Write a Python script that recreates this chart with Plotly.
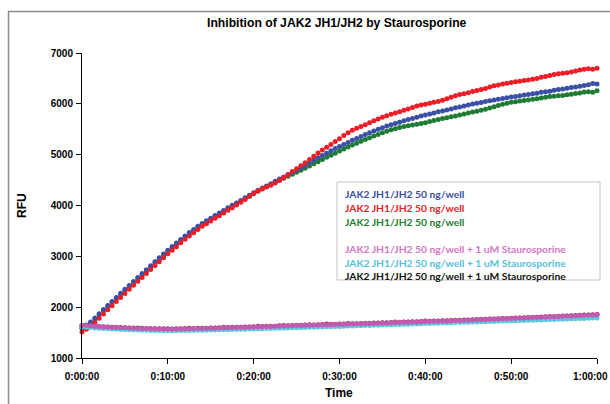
import plotly.graph_objects as go

# Time in minutes (30-second reads)
TIME_MIN = [0, 0.5, 1, 1.5, 2, 2.5, 3, 3.5, 4, 4.5, 5, 5.5, 6, 6.5, 7, 7.5, 8, 8.5, 9, 9.5,
            10, 10.5, 11, 11.5, 12, 12.5, 13, 13.5, 14, 14.5, 15, 15.5, 16, 16.5, 17, 17.5, 18, 18.5, 19, 19.5,
            20, 20.5, 21, 21.5, 22, 22.5, 23, 23.5, 24, 24.5, 25, 25.5, 26, 26.5, 27, 27.5, 28, 28.5, 29, 29.5,
            30, 30.5, 31, 31.5, 32, 32.5, 33, 33.5, 34, 34.5, 35, 35.5, 36, 36.5, 37, 37.5, 38, 38.5, 39, 39.5,
            40, 40.5, 41, 41.5, 42, 42.5, 43, 43.5, 44, 44.5, 45, 45.5, 46, 46.5, 47, 47.5, 48, 48.5, 49, 49.5,
            50, 50.5, 51, 51.5, 52, 52.5, 53, 53.5, 54, 54.5, 55, 55.5, 56, 56.5, 57, 57.5, 58, 58.5, 59, 59.5, 60]

BLUE = [1600, 1648, 1710, 1785, 1870, 1955, 2035, 2110, 2190, 2272, 2350, 2425, 2505, 2585, 2660, 2735, 2815, 2895, 2970, 3045,
        3120, 3192, 3260, 3332, 3400, 3468, 3530, 3590, 3645, 3700, 3750, 3802, 3850, 3903, 3955, 4003, 4050, 4098, 4150, 4200,
        4250, 4300, 4345, 4385, 4430, 4475, 4520, 4562, 4610, 4655, 4700, 4745, 4795, 4842, 4890, 4938, 4985, 5030, 5075, 5120,
        5160, 5200, 5240, 5282, 5320, 5358, 5395, 5432, 5465, 5498, 5530, 5562, 5590, 5615, 5640, 5668, 5690, 5712, 5735, 5760,
        5780, 5798, 5820, 5842, 5860, 5878, 5900, 5922, 5940, 5955, 5975, 5995, 6010, 6028, 6045, 6062, 6075, 6088, 6105, 6122,
        6135, 6145, 6160, 6175, 6185, 6198, 6210, 6228, 6240, 6250, 6265, 6280, 6290, 6305, 6320, 6330, 6345, 6362, 6375, 6398, 6388]

RED = [1510, 1565, 1620, 1695, 1780, 1868, 1950, 2030, 2110, 2190, 2270, 2350, 2430, 2508, 2585, 2662, 2740, 2818, 2895, 2972,
       3050, 3120, 3190, 3265, 3335, 3400, 3465, 3530, 3590, 3642, 3695, 3748, 3800, 3852, 3905, 3958, 4010, 4065, 4120, 4180,
       4240, 4285, 4330, 4362, 4400, 4445, 4490, 4550, 4605, 4668, 4725, 4780, 4840, 4905, 4970, 5032, 5090, 5148, 5200, 5258,
       5315, 5375, 5430, 5478, 5520, 5555, 5590, 5628, 5665, 5700, 5735, 5768, 5795, 5822, 5845, 5872, 5900, 5930, 5955, 5975,
       5990, 6012, 6030, 6048, 6070, 6102, 6130, 6160, 6185, 6200, 6220, 6242, 6260, 6280, 6300, 6330, 6355, 6372, 6390, 6405,
       6420, 6432, 6445, 6458, 6470, 6482, 6500, 6522, 6540, 6558, 6575, 6590, 6600, 6612, 6625, 6648, 6665, 6680, 6690, 6682, 6700]

GREEN = [1580, 1630, 1690, 1768, 1850, 1932, 2010, 2090, 2170, 2248, 2325, 2402, 2480, 2558, 2635, 2712, 2790, 2868, 2945, 3020,
         3095, 3165, 3235, 3305, 3375, 3440, 3505, 3565, 3620, 3672, 3725, 3778, 3830, 3880, 3930, 3980, 4030, 4080, 4130, 4180,
         4230, 4280, 4325, 4368, 4410, 4452, 4495, 4535, 4575, 4615, 4655, 4695, 4735, 4778, 4820, 4862, 4905, 4948, 4990, 5030,
         5070, 5110, 5150, 5188, 5225, 5262, 5300, 5332, 5365, 5398, 5430, 5462, 5490, 5512, 5535, 5552, 5570, 5585, 5600, 5615,
         5630, 5652, 5670, 5690, 5710, 5728, 5745, 5762, 5780, 5800, 5820, 5838, 5855, 5875, 5895, 5920, 5945, 5968, 5990, 6010,
         6030, 6042, 6055, 6065, 6075, 6088, 6100, 6115, 6130, 6142, 6150, 6158, 6165, 6178, 6190, 6202, 6215, 6232, 6240, 6228, 6255]

MAGENTA = [1640, 1638, 1632, 1625, 1618, 1612, 1608, 1602, 1600, 1596, 1593, 1590, 1585, 1580, 1582, 1578, 1575, 1574, 1572, 1570,
           1570, 1568, 1572, 1570, 1575, 1574, 1578, 1580, 1582, 1584, 1588, 1586, 1592, 1595, 1596, 1600, 1602, 1604, 1606, 1608,
           1612, 1614, 1615, 1620, 1622, 1624, 1628, 1630, 1632, 1636, 1638, 1640, 1643, 1645, 1648, 1650, 1652, 1656, 1658, 1660,
           1663, 1666, 1668, 1670, 1672, 1675, 1678, 1680, 1682, 1686, 1688, 1690, 1694, 1696, 1698, 1702, 1705, 1707, 1710, 1713,
           1716, 1718, 1722, 1724, 1727, 1730, 1733, 1736, 1740, 1742, 1745, 1749, 1752, 1755, 1758, 1762, 1765, 1768, 1772, 1775,
           1778, 1782, 1785, 1788, 1792, 1796, 1799, 1802, 1806, 1810, 1813, 1817, 1820, 1824, 1828, 1832, 1836, 1840, 1844, 1848, 1852]

CYAN = [1615, 1605, 1598, 1590, 1585, 1580, 1575, 1570, 1568, 1563, 1560, 1556, 1552, 1550, 1548, 1545, 1543, 1541, 1540, 1538,
        1538, 1537, 1538, 1540, 1540, 1542, 1543, 1545, 1546, 1548, 1550, 1552, 1554, 1556, 1558, 1560, 1562, 1565, 1567, 1570,
        1572, 1575, 1577, 1580, 1582, 1585, 1587, 1590, 1592, 1595, 1597, 1600, 1602, 1605, 1607, 1610, 1612, 1615, 1617, 1620,
        1622, 1625, 1628, 1630, 1633, 1636, 1638, 1641, 1644, 1646, 1649, 1652, 1655, 1657, 1660, 1663, 1666, 1668, 1671, 1674,
        1677, 1680, 1682, 1685, 1688, 1690, 1693, 1696, 1699, 1701, 1704, 1707, 1710, 1712, 1715, 1718, 1720, 1723, 1726, 1728,
        1731, 1734, 1736, 1739, 1742, 1745, 1747, 1750, 1753, 1756, 1758, 1761, 1764, 1767, 1770, 1773, 1776, 1779, 1782, 1785, 1788]

DARK = [1645, 1640, 1636, 1628, 1622, 1615, 1610, 1606, 1603, 1598, 1596, 1592, 1588, 1590, 1586, 1580, 1578, 1576, 1575, 1574,
        1573, 1572, 1575, 1574, 1578, 1586, 1580, 1583, 1585, 1587, 1590, 1590, 1595, 1604, 1600, 1603, 1605, 1607, 1610, 1611,
        1615, 1625, 1618, 1623, 1625, 1627, 1632, 1640, 1635, 1640, 1642, 1644, 1647, 1655, 1651, 1654, 1657, 1668, 1662, 1664,
        1667, 1670, 1680, 1674, 1676, 1680, 1682, 1684, 1690, 1690, 1692, 1695, 1698, 1706, 1702, 1706, 1709, 1711, 1714, 1717,
        1726, 1722, 1726, 1728, 1731, 1734, 1737, 1744, 1744, 1746, 1749, 1753, 1756, 1760, 1762, 1766, 1769, 1772, 1776, 1779,
        1782, 1786, 1789, 1792, 1796, 1800, 1803, 1806, 1810, 1814, 1817, 1821, 1824, 1828, 1832, 1836, 1840, 1844, 1848, 1852, 1856]

X_TICKS = [0, 10, 20, 30, 40, 50, 60]
X_TICK_TEXT = ["0:00:00", "0:10:00", "0:20:00", "0:30:00", "0:40:00", "0:50:00", "1:00:00"]
Y_TICKS = [1000, 2000, 3000, 4000, 5000, 6000, 7000]

LEGEND_LINES = [
    ("JAK2 JH1/JH2 50 ng/well", "#3B4DA3"),
    ("JAK2 JH1/JH2 50 ng/well", "#EE2229"),
    ("JAK2 JH1/JH2 50 ng/well", "#1F7D32"),
    ("JAK2 JH1/JH2 50 ng/well + 1 uM Staurosporine", "#D577C4"),
    ("JAK2 JH1/JH2 50 ng/well + 1 uM Staurosporine", "#55C3DA"),
    ("JAK2 JH1/JH2 50 ng/well + 1 uM Staurosporine", "#111111"),
]

series = [
    (GREEN, "#1E7B33"),
    (BLUE, "#3A50A6"),
    (RED, "#EE1C25"),
    (DARK, "#9B2C3C"),
    (CYAN, "#5CC8DD"),
    (MAGENTA, "#C25AB2"),
]

fig = go.Figure()
for vals, col in series:
    fig.add_trace(go.Scatter(x=TIME_MIN, y=vals, mode="markers",
                             marker=dict(size=5, color=col, line=dict(width=0)),
                             hoverinfo="skip", showlegend=False, cliponaxis=False))

# plot area in window pixels: x 82..597, y 53..358
FW, FH = 610, 404
L, R, T, B = 82, 597, 53, 358
W, H = R - L, B - T
def px(x):
    return (x - L) / W
def py(y):
    return (B - y) / H

shapes = [
    # outer chart frame
    dict(type="rect", xref="paper", yref="paper", x0=px(8.5), x1=px(650), y0=py(450), y1=py(11.5),
         line=dict(color="#8C8C8C", width=1.5), fillcolor="rgba(0,0,0,0)", layer="below"),
    # text box
    dict(type="rect", xref="paper", yref="paper", x0=px(337), x1=px(600), y0=py(280), y1=py(182),
         line=dict(color="#C4C4C4", width=1), fillcolor="white", layer="above"),
]

annotations = []
line_y = [194, 208, 222, 249, 262.5, 276]
for (txt, col), yy in zip(LEGEND_LINES, line_y):
    annotations.append(dict(text="<b>%s</b>" % txt, xref="paper", yref="paper", x=px(343), y=py(yy),
                            xanchor="left", yanchor="middle", showarrow=False,
                            font=dict(family="Lato", size=10.3, color=col)))
annotations.append(dict(text="<b>RFU</b>", xref="paper", yref="paper", x=px(22), y=py(206),
                        textangle=-90, showarrow=False, xanchor="center", yanchor="middle",
                        font=dict(family="Liberation Sans", size=12, color="black")))
annotations.append(dict(text="<b>Time</b>", xref="paper", yref="paper", x=px(339), y=py(393),
                        showarrow=False, xanchor="center", yanchor="middle",
                        font=dict(family="Liberation Sans", size=12, color="black")))
annotations.append(dict(text="<b>Inhibition of JAK2 JH1/JH2 by Staurosporine</b>", xref="paper", yref="paper",
                        x=px(337), y=py(23), showarrow=False, xanchor="center", yanchor="middle",
                        font=dict(family="Liberation Sans", size=12.2, color="black")))
# last x tick label, kept inside the window edge
annotations.append(dict(text="<b>%s</b>" % X_TICK_TEXT[-1], xref="x", yref="paper", x=X_TICKS[-1], y=py(376),
                        xshift=13, showarrow=False, xanchor="right", yanchor="middle",
                        font=dict(family="Liberation Sans", size=10, color="black")))

fig.update_layout(
    width=FW, height=FH,
    margin=dict(l=L, r=FW - R, t=T, b=FH - B, autoexpand=False),
    paper_bgcolor="white", plot_bgcolor="white",
    shapes=shapes, annotations=annotations,
    hovermode=False,
    font=dict(family="Liberation Sans", color="black"),
)
fig.update_xaxes(range=[0, 60], tickvals=X_TICKS,
                 ticktext=["<b>%s</b>" % t for t in X_TICK_TEXT[:-1]] + [""],
                 showgrid=False, zeroline=False, showline=True, linecolor="black", linewidth=1,
                 ticks="outside", ticklen=5, tickcolor="black", tickfont=dict(size=10, family="Liberation Sans"),
                 ticklabelstandoff=4)
fig.update_yaxes(range=[1000, 7000], tickvals=Y_TICKS, ticktext=["<b>%d</b>" % v for v in Y_TICKS],
                 showgrid=False, zeroline=False, showline=True, linecolor="black", linewidth=1,
                 ticks="outside", ticklen=5, tickcolor="black", tickfont=dict(size=10, family="Liberation Sans"),
                 ticklabelstandoff=1)

fig.write_html("out.html", config={"displayModeBar": False, "staticPlot": True},
               post_script="document.body.style.margin='0';document.body.style.overflow='hidden';")
